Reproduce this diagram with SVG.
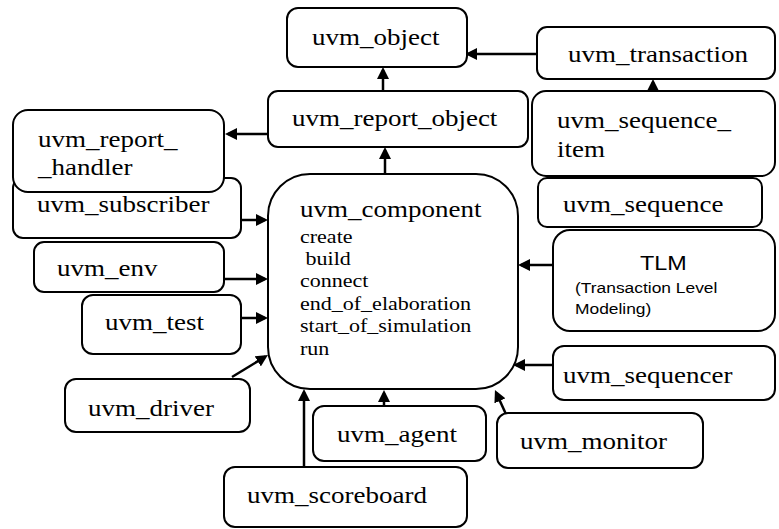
<svg xmlns="http://www.w3.org/2000/svg" width="779" height="529" viewBox="0 0 779 529">
<style>
.box{fill:#fff;stroke:#000;stroke-width:2}
.t{font-family:"Liberation Serif","Times New Roman",serif;font-size:22.5px;fill:#000}
.s{font-family:"Liberation Serif","Times New Roman",serif;font-size:18.5px;fill:#000}
.a{font-family:"Liberation Sans",Arial,sans-serif;fill:#000}
.c{stroke:#000;stroke-width:2.5;fill:none;marker-end:url(#ah)}
</style>
<defs>
<marker id="ah" markerUnits="userSpaceOnUse" markerWidth="13" markerHeight="12" refX="9" refY="6" orient="auto">
<path d="M0,0 L12,6 L0,12 z" fill="#000"/>
</marker>
</defs>
<rect width="779" height="529" fill="#fff"/>
<g id="connectors">
<line class="c" x1="383" y1="91" x2="383" y2="70"/>
<line class="c" x1="385" y1="174" x2="385" y2="150"/>
<line class="c" x1="537" y1="54" x2="468" y2="54"/>
<line class="c" x1="653" y1="91" x2="653" y2="82"/>
<line class="c" x1="662" y1="178" x2="662" y2="151"/>
<line class="c" x1="268" y1="134" x2="228" y2="134"/>
<line class="c" x1="241" y1="220" x2="265" y2="220"/>
<line class="c" x1="224" y1="279" x2="265" y2="279"/>
<line class="c" x1="241" y1="318" x2="265" y2="318"/>
<line class="c" x1="232" y1="377" x2="265.4" y2="356.6"/>
<line class="c" x1="304" y1="479" x2="304" y2="392"/>
<line class="c" x1="384" y1="417" x2="384" y2="393"/>
<line class="c" x1="510" y1="423" x2="496.2" y2="392.7"/>
<line class="c" x1="553" y1="365" x2="516" y2="365"/>
<line class="c" x1="553" y1="265" x2="521" y2="265"/>
</g>
<g id="uvm_object">
<rect class="box" x="287" y="8" width="180" height="59" rx="11"/>
<text class="t" transform="translate(312,45) scale(1.2,1)">uvm_object</text>
</g>
<g id="uvm_report_object">
<rect class="box" x="268" y="91" width="260" height="56" rx="10"/>
<text class="t" transform="translate(292,126) scale(1.2,1)">uvm_report_object</text>
</g>
<g id="uvm_transaction">
<rect class="box" x="537" y="27" width="238" height="52" rx="10"/>
<text class="t" transform="translate(568,62) scale(1.2,1)">uvm_transaction</text>
</g>
<g id="uvm_sequence_item">
<rect class="box" x="532" y="91" width="243" height="85" rx="14"/>
<text class="t" transform="translate(557,128) scale(1.2,1)">uvm_sequence_</text>
<text class="t" transform="translate(557,157) scale(1.2,1)">item</text>
</g>
<g id="uvm_sequence">
<rect class="box" x="538" y="178" width="224" height="49" rx="9"/>
<text class="t" transform="translate(563,212) scale(1.2,1)">uvm_sequence</text>
</g>
<g id="uvm_subscriber">
<rect class="box" x="13" y="178" width="228" height="60" rx="10"/>
<text class="t" transform="translate(37,212) scale(1.2,1)">uvm_subscriber</text>
</g>
<g id="uvm_report_handler">
<rect class="box" x="13" y="110" width="211" height="82" rx="15"/>
<text class="t" transform="translate(38,147) scale(1.2,1)">uvm_report_</text>
<text class="t" transform="translate(38,175) scale(1.2,1)">_handler</text>
</g>
<g id="uvm_env">
<rect class="box" x="34" y="242" width="190" height="50" rx="10"/>
<text class="t" transform="translate(57,276) scale(1.2,1)">uvm_env</text>
</g>
<g id="uvm_test">
<rect class="box" x="82" y="295" width="159" height="59" rx="11"/>
<text class="t" transform="translate(105,330) scale(1.2,1)">uvm_test</text>
</g>
<g id="uvm_driver">
<rect class="box" x="65" y="379" width="185" height="53" rx="11"/>
<text class="t" transform="translate(88,416) scale(1.2,1)">uvm_driver</text>
</g>
<g id="uvm_component">
<rect class="box" x="268" y="174" width="250" height="215" rx="42"/>
<text class="t" transform="translate(300,217) scale(1.2,1)">uvm_component</text>
<text class="s" transform="translate(300,243) scale(1.19,1)">create</text>
<text class="s" transform="translate(300,265) scale(1.19,1)" xml:space="preserve"> build</text>
<text class="s" transform="translate(300,287) scale(1.19,1)">connect</text>
<text class="s" transform="translate(300,310) scale(1.19,1)">end_of_elaboration</text>
<text class="s" transform="translate(300,332) scale(1.19,1)">start_of_simulation</text>
<text class="s" transform="translate(300,355) scale(1.19,1)">run</text>
</g>
<g id="tlm">
<rect class="box" x="553" y="230" width="222" height="101" rx="17"/>
<text class="a" font-size="20" transform="translate(640,270) scale(1.17,1)">TLM</text>
<text class="a" font-size="14.5" transform="translate(575,293) scale(1.2,1)">(Transaction Level</text>
<text class="a" font-size="14.5" transform="translate(575,314) scale(1.2,1)">Modeling)</text>
</g>
<g id="uvm_sequencer">
<rect class="box" x="553" y="346" width="222" height="54" rx="11"/>
<text class="t" transform="translate(563,383) scale(1.2,1)">uvm_sequencer</text>
</g>
<g id="uvm_agent">
<rect class="box" x="313" y="406" width="173" height="55" rx="11"/>
<text class="t" transform="translate(337,442) scale(1.2,1)">uvm_agent</text>
</g>
<g id="uvm_monitor">
<rect class="box" x="497" y="413" width="206" height="55" rx="11"/>
<text class="t" transform="translate(520,449) scale(1.2,1)">uvm_monitor</text>
</g>
<g id="uvm_scoreboard">
<rect class="box" x="224" y="467" width="243" height="60" rx="11"/>
<text class="t" transform="translate(247,503) scale(1.2,1)">uvm_scoreboard</text>
</g>
</svg>
